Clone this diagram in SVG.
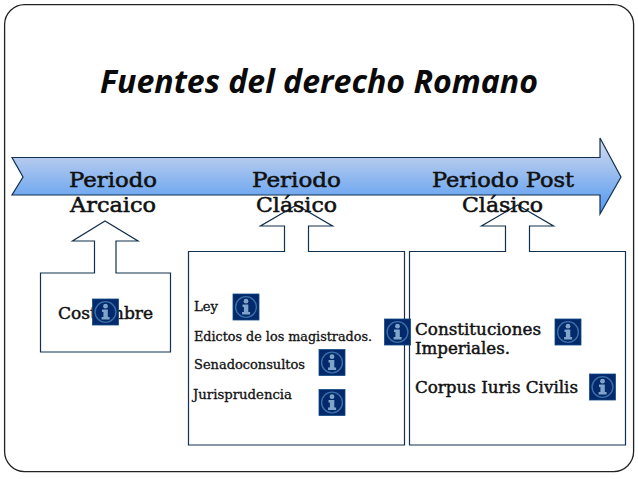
<svg xmlns="http://www.w3.org/2000/svg" xmlns:xlink="http://www.w3.org/1999/xlink" width="638" height="479" viewBox="0 0 638 479">
<style>
.frame{fill:#fff;stroke:#222;stroke-width:1.3}
.call{fill:#fff;stroke:#12304f;stroke-width:1.2}
.t{font-family:"DejaVu Serif","Liberation Serif",serif;fill:#111;stroke:#111}
.big{font-size:21px;stroke-width:.55}
.mid{font-size:16px;stroke-width:.45}
.sm{font-size:12px;stroke-width:.3}
.title{font-family:"Open Sans","Noto Sans",sans-serif;font-weight:700;font-style:italic;font-size:32px;fill:#0a0a0a}
</style>
<defs>
<linearGradient id="g" x1="0" y1="0" x2="0" y2="1">
<stop offset="0" stop-color="#d8dcec"/>
<stop offset="1" stop-color="#4f98f2"/>
</linearGradient>
<g id="info">
<rect x="0" y="0" width="26" height="26" fill="#04296c" stroke="#0f4c86" stroke-width="0.8"/>
<circle cx="13" cy="13" r="10.4" fill="none" stroke="#3a6fa5" stroke-width="1.4"/>
<circle cx="13" cy="7.2" r="2.4" fill="#7fa6c8"/>
<path d="M9.500 10.500h5.800v7.500h1.800v2.500h-8v-2.500h1.800v-5h-1.400z" fill="#7fa6c8"/>
</g>
</defs>
<rect width="638" height="479" fill="#fff"/>
<rect class="frame" x="4.600" y="4.600" width="629" height="467" rx="20" ry="20"/>
<text class="title" x="100" y="93" textLength="438" lengthAdjust="spacingAndGlyphs">Fuentes del derecho Romano</text>
<g id="timeline">
<path d="M12 157.500H600V138L621 177L600 214V195H12L23 177Z" fill="url(#g)" stroke="#12304f" stroke-width="1.2"/>
</g>
<g id="connectors">
<path class="call" d="M40.500 273H94.500V241H72.500L105 221L138 241H116V273H170.500V352H40.500Z"/>
<path class="call" d="M188.500 251.500H284.500V226H260.500L296.500 205L332.500 226H308.500V251.500H404.500V445H188.500Z"/>
<path class="call" d="M409.500 251.500H505.500V226H481.500L517.500 205L553.500 226H529.500V251.500H625.500V445H409.500Z"/>
</g>
<g id="periodo-arcaico">
<text class="t big" x="69" y="187" textLength="88" lengthAdjust="spacingAndGlyphs">Periodo</text>
<text class="t big" x="70" y="212" textLength="86" lengthAdjust="spacingAndGlyphs">Arcaico</text>
</g>
<g id="periodo-clasico">
<text class="t big" x="252" y="187" textLength="89" lengthAdjust="spacingAndGlyphs">Periodo</text>
<text class="t big" x="256" y="212" textLength="81" lengthAdjust="spacingAndGlyphs">Clásico</text>
</g>
<g id="periodo-post">
<text class="t big" x="432" y="187" textLength="142" lengthAdjust="spacingAndGlyphs">Periodo Post</text>
<text class="t big" x="462" y="212" textLength="81" lengthAdjust="spacingAndGlyphs">Clásico</text>
</g>
<g id="costumbre">
<text class="t mid" x="58" y="319" textLength="95" lengthAdjust="spacingAndGlyphs">Costumbre</text>
<use xlink:href="#info" href="#info" x="92.500" y="299"/>
</g>
<g id="clasico-fuentes">
<text class="t sm" x="194" y="311" textLength="24" lengthAdjust="spacingAndGlyphs">Ley</text>
<text class="t sm" x="194" y="341" textLength="178" lengthAdjust="spacingAndGlyphs">Edictos de los  magistrados.</text>
<text class="t sm" x="194" y="369" textLength="111" lengthAdjust="spacingAndGlyphs">Senadoconsultos</text>
<text class="t sm" x="193" y="399" textLength="99" lengthAdjust="spacingAndGlyphs">Jurisprudencia</text>
<use xlink:href="#info" href="#info" x="233" y="294"/>
<use xlink:href="#info" href="#info" x="319" y="349.500"/>
<use xlink:href="#info" href="#info" x="319" y="389.500"/>
<use xlink:href="#info" href="#info" x="384.500" y="319"/>
</g>
<g id="post-fuentes">
<text class="t mid" x="415" y="335" textLength="126" lengthAdjust="spacingAndGlyphs">Constituciones</text>
<text class="t mid" x="415" y="354" textLength="95" lengthAdjust="spacingAndGlyphs">Imperiales.</text>
<text class="t mid" x="415" y="393" textLength="163" lengthAdjust="spacingAndGlyphs">Corpus Iuris Civilis</text>
<use xlink:href="#info" href="#info" x="555" y="319"/>
<use xlink:href="#info" href="#info" x="589.500" y="374"/>
</g>
</svg>
